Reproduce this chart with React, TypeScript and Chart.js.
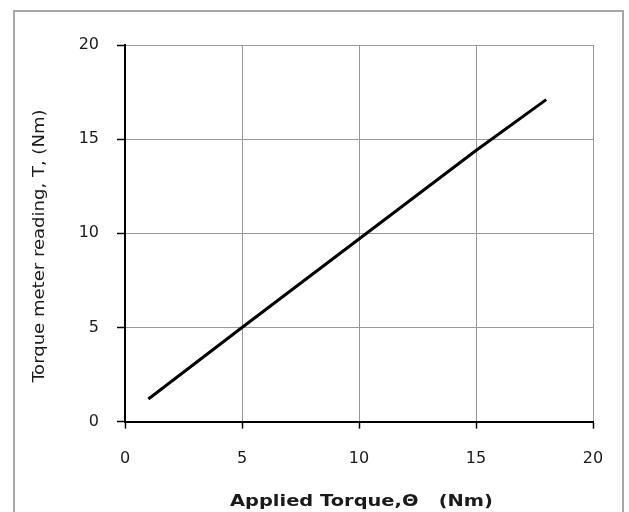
import React, { useEffect, useRef } from "react";
import { Chart, registerables } from "chart.js";

Chart.register(...registerables);

const appliedTorque = [1, 5, 10, 15, 18];
const meterReading = [1.2, 5.0, 9.7, 14.4, 17.1];
const xTitle = "Applied Torque,\u0398   (Nm)";
const yTitle = "Torque meter reading, T, (Nm)";
const axisMin = 0;
const axisMax = 20;
const axisStep = 5;

const titlePlugin = {
  id: "customTitles",
  afterDraw(chart: any) {
    const ctx = chart.ctx as CanvasRenderingContext2D;
    const drawScaled = (text: string, font: string, cx: number, cy: number, rot: number, target: number) => {
      ctx.save();
      ctx.font = font;
      ctx.fillStyle = "#1a1a1a";
      ctx.textAlign = "center";
      ctx.textBaseline = "middle";
      const w = ctx.measureText(text).width;
      ctx.translate(cx, cy);
      ctx.rotate(rot);
      ctx.scale(target / w, 1);
      ctx.fillText(text, 0, 0);
      ctx.restore();
    };
    drawScaled(yTitle, "16px 'DejaVu Sans Condensed', 'DejaVu Sans'", 40, 246, -Math.PI / 2, 273);
    drawScaled(xTitle, "bold 16px 'DejaVu Sans'", 361.5, 502, 0, 263);
  },
};

export default function App() {
  const ref = useRef<HTMLCanvasElement | null>(null);
  useEffect(() => {
    if (!ref.current) return;
    const data = appliedTorque.map((x, i) => ({ x, y: meterReading[i] }));
    const tickFont = { family: "'DejaVu Sans'", size: 16 };
    const chart = new Chart(ref.current, {
      type: "line",
      data: {
        datasets: [
          {
            data,
            borderColor: "#000",
            borderWidth: 3,
            pointRadius: 0,
            tension: 0,
          },
        ],
      },
      options: {
        animation: false,
        responsive: false,
        devicePixelRatio: 1,
        layout: { padding: { top: 45, right: 36, left: 0, bottom: 0 } },
        plugins: { legend: { display: false }, tooltip: { enabled: false } },
        scales: {
          x: {
            type: "linear",
            min: axisMin,
            max: axisMax,
            afterFit: (s: any) => {
              s.height = 90.4;
            },
            ticks: { stepSize: axisStep, color: "#1a1a1a", font: tickFont, padding: 21 },
            grid: { color: "#999", lineWidth: 1, tickColor: "#000", tickLength: 7, tickWidth: 1.5 },
            border: { color: "#000", width: 2 },
          },
          y: {
            type: "linear",
            min: axisMin,
            max: axisMax,
            afterFit: (s: any) => {
              s.width = 125;
            },
            ticks: { stepSize: axisStep, color: "#1a1a1a", font: tickFont, padding: 18 },
            grid: { color: "#999", lineWidth: 1, tickColor: "#000", tickLength: 8, tickWidth: 1.5 },
            border: { color: "#000", width: 2 },
          },
        },
      },
      plugins: [titlePlugin],
    } as any);
    return () => chart.destroy();
  }, []);

  return (
    <div style={{ position: "fixed", left: 0, top: 0, width: 629, height: 512, overflow: "hidden", background: "#fff" }}>
      <div
        style={{
          position: "absolute",
          left: 13,
          top: 10,
          width: 607,
          height: 520,
          border: "2px solid #a8a8a8",
        }}
      />
      <canvas ref={ref} width={629} height={512} style={{ position: "absolute", left: 0, top: 0 }} />
    </div>
  );
}
